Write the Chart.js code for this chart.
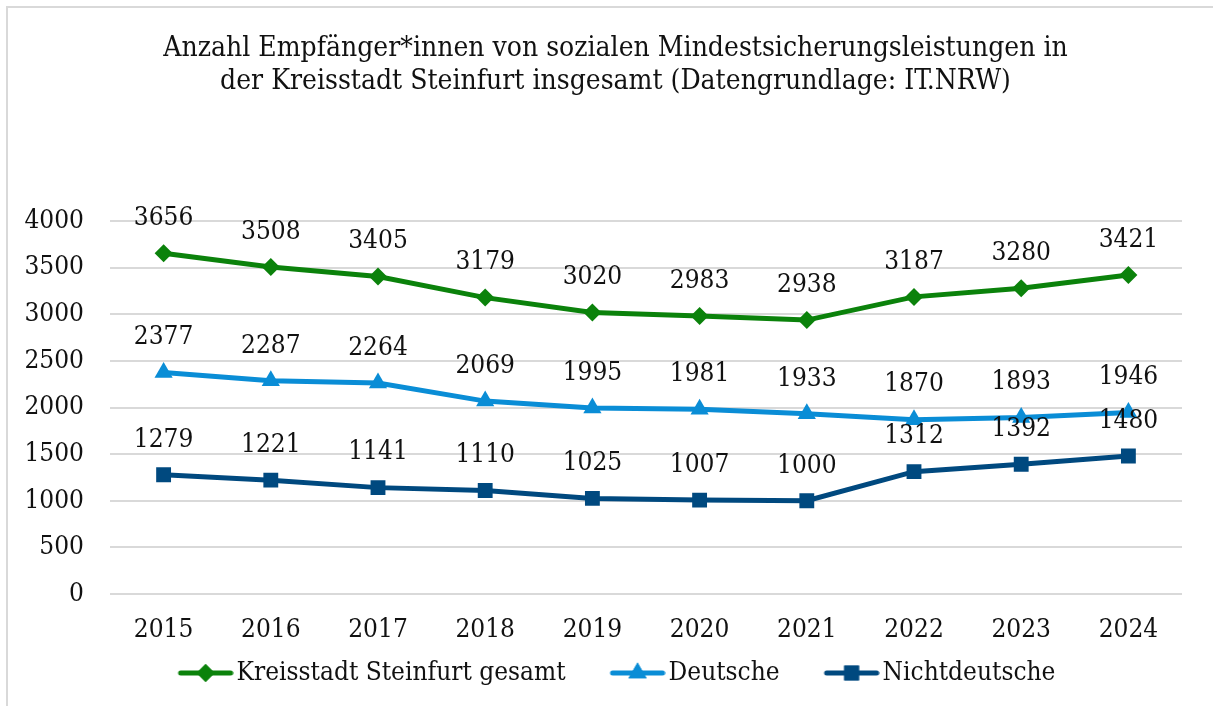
<!DOCTYPE html>
<html><head><meta charset="utf-8">
<script src="https://cdn.jsdelivr.net/npm/chart.js@4.4.0/dist/chart.umd.min.js"></script>
<style>
html,body{margin:0;padding:0;background:#fff;overflow:hidden;width:1213px;height:706px}
#frame{position:absolute;left:6px;top:6px;width:1300px;height:800px;border-left:2px solid #d9d9d9;border-top:2px solid #d9d9d9}
#wrap{position:absolute;left:8px;top:8px;width:1215px;height:698px}
</style></head><body>
<div id="frame"></div>
<div id="wrap"><canvas id="c"></canvas></div>
<script>
const years = ['2015','2016','2017','2018','2019','2020','2021','2022','2023','2024'];
const gesamt = [3656,3508,3405,3179,3020,2983,2938,3187,3280,3421];
const deutsche = [2377,2287,2264,2069,1995,1981,1933,1870,1893,1946];
const nichtdeutsche = [1279,1221,1141,1110,1025,1007,1000,1312,1392,1480];
const seriesNames = ['Kreisstadt Steinfurt gesamt','Deutsche','Nichtdeutsche'];
const yTickValues = [0,500,1000,1500,2000,2500,3000,3500,4000];
const titleLines = ['Anzahl Empfänger*innen von sozialen Mindestsicherungsleistungen in','der Kreisstadt Steinfurt insgesamt (Datengrundlage: IT.NRW)'];

const FONT = "'DejaVu Serif Condensed', 'DejaVu Serif', serif";
const GREEN = '#0b820b', LBLUE = '#0a8dd6', DBLUE = '#00497f';

// legend icon: line with marker, drawn in the right part of a wider canvas
function makeIcon(color, style, r){
  const cv = document.createElement('canvas');
  cv.width = 100; cv.height = 24;
  const ctx = cv.getContext('2d');
  ctx.strokeStyle = color; ctx.lineWidth = 5; ctx.lineCap = 'round';
  ctx.beginPath(); ctx.moveTo(47,12); ctx.lineTo(97,12); ctx.stroke();
  ctx.fillStyle = color;
  Chart.helpers.drawPoint(ctx, {pointStyle: style, radius: r, borderWidth: 0, rotation: 0}, 72, 12);
  ctx.fill();
  return cv;
}

const dataLabels = {
  id: 'dataLabels',
  afterDatasetsDraw(chart){
    const ctx = chart.ctx;
    ctx.save();
    ctx.font = "26px " + FONT;
    ctx.fillStyle = '#111';
    ctx.textAlign = 'center';
    ctx.textBaseline = 'middle';
    chart.data.datasets.forEach((ds, i) => {
      const meta = chart.getDatasetMeta(i);
      meta.data.forEach((el, j) => {
        ctx.fillText(String(ds.data[j]), el.x, el.y - 35);
      });
    });
    ctx.restore();
  }
};

// shift the legend box slightly left so the visible items are centred like the original
const legendShift = {
  id: 'legendShift',
  afterLayout(chart){
    if (chart.legend) { chart.legend.left -= 32; }
  }
};

const icons = [makeIcon(GREEN,'rectRot',9), makeIcon(LBLUE,'triangle',10.5), makeIcon(DBLUE,'rect',10.5)];

new Chart(document.getElementById('c'), {
  type: 'line',
  data: {
    labels: years,
    datasets: [
      {label: seriesNames[0], data: gesamt, borderColor: GREEN, backgroundColor: GREEN, borderWidth: 5, pointStyle: 'rectRot', pointRadius: 9, pointBorderWidth: 0, tension: 0},
      {label: seriesNames[1], data: deutsche, borderColor: LBLUE, backgroundColor: LBLUE, borderWidth: 5, pointStyle: 'triangle', pointRadius: 10.5, pointBorderWidth: 0, tension: 0},
      {label: seriesNames[2], data: nichtdeutsche, borderColor: DBLUE, backgroundColor: DBLUE, borderWidth: 5, pointStyle: 'rect', pointRadius: 10.5, pointBorderWidth: 0, tension: 0}
    ]
  },
  options: {
    responsive: true,
    maintainAspectRatio: false,
    animation: false,
    layout: {padding: {left: 0, right: 0, top: 0, bottom: 10}},
    plugins: {
      title: {display: true, text: titleLines, color: '#111', font: {family: FONT, size: 28, weight: 'normal', lineHeight: 1.18}, padding: {top: 24, bottom: 123}},
      legend: {
        position: 'bottom',
        labels: {
          usePointStyle: true, pointStyleWidth: 80, padding: 10,
          color: '#111', font: {family: FONT, size: 26},
          generateLabels(chart){
            const items = Chart.defaults.plugins.legend.labels.generateLabels(chart);
            items.forEach((it, i) => { it.pointStyle = icons[i]; });
            return items;
          }
        }
      },
      tooltip: {enabled: false}
    },
    scales: {
      x: {
        offset: true,
        afterFit(scale){ scale.height = 56; },
        grid: {display: false, drawTicks: false},
        border: {display: false},
        ticks: {color: '#111', font: {family: FONT, size: 26}, padding: 21, maxRotation: 0}
      },
      y: {
        min: 0, max: 4000,
        afterBuildTicks(scale){ scale.ticks = yTickValues.map(v => ({value: v})); },
        afterFit(scale){ scale.width = 102; },
        grid: {color: '#d9d9d9', lineWidth: 2, drawTicks: false},
        border: {display: false},
        ticks: {color: '#111', font: {family: FONT, size: 26}, padding: 26, callback: v => String(v)}
      },
      yRight: {
        position: 'right', min: 0, max: 4000,
        afterFit(scale){ scale.width = 41; },
        grid: {display: false, drawTicks: false},
        border: {display: false},
        ticks: {display: false}
      }
    }
  },
  plugins: [dataLabels, legendShift]
});
</script>
</body></html>
